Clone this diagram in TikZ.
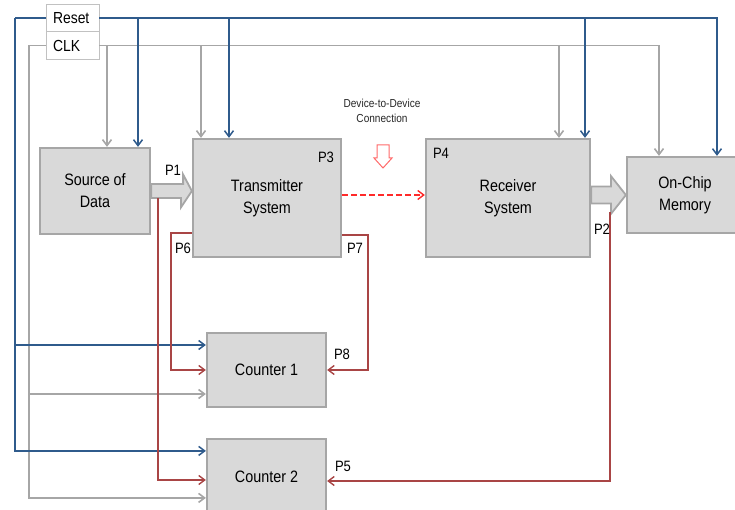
\documentclass[tikz,border=0pt]{standalone}
\usepackage{fontspec}
\setmainfont[FakeStretch=0.87]{Liberation Sans}
\usetikzlibrary{arrows.meta,calc}
\definecolor{boxfill}{HTML}{D9D9D9}
\definecolor{boxline}{HTML}{A6A6A6}
\definecolor{rstblue}{HTML}{2F5B8C}
\definecolor{clkgray}{HTML}{A6A6A6}
\definecolor{sigred}{HTML}{A94545}
\definecolor{ddred}{HTML}{FF2A2A}
\definecolor{outred}{HTML}{FF6A6A}
\begin{document}
\begin{tikzpicture}[x=1pt,y=-1pt,
  blk/.style={draw=boxline, fill=boxfill, line width=2.2pt, inner sep=0pt, align=center, font=\fontsize{16.5}{22}\selectfont},
  tag/.style={draw=boxline!70, fill=white, line width=0.8pt, inner xsep=7pt, inner ysep=0pt, text width=39pt, minimum height=27.5pt, align=left, font=\fontsize{16}{18}\selectfont},
  plabel/.style={inner sep=0pt, font=\fontsize{15}{17}\selectfont},
  tip/.style={-{Straight Barb[length=6pt,width=9pt]}},
  rst/.style={draw=rstblue, line width=1.5pt},
  clk/.style={draw=clkgray, line width=1.6pt},
  sig/.style={draw=sigred, line width=1.4pt},
  fat/.style={draw=boxline, fill=boxfill, line width=1.8pt, line join=miter}
]
\useasboundingbox (0,0) rectangle (735,510);

% blocks
\node[blk, minimum width=110pt, minimum height=86pt] (src) at (95,191) {Source of\\Data};
\node[blk, minimum width=148pt, minimum height=118pt] (tx) at (267,198) {Transmitter\\System};
\node[blk, minimum width=164pt, minimum height=118pt] (rx) at (508,198) {Receiver\\System};
\node[blk, minimum width=116pt, minimum height=76pt] (mem) at (685,195) {On-Chip\\Memory};
\node[blk, minimum width=119pt, minimum height=74pt] (c1) at (266.5,370) {Counter 1};
\node[blk, minimum width=119pt, minimum height=76pt] (c2) at (266.5,477) {Counter 2};

% signal tags
\node[tag] (reset) at (72.5,18) {Reset};
\node[tag] (clk) at (72.5,45.5) {CLK};

% drop points
\coordinate (cs) at ($(src.north)+(12,0)$);
\coordinate (ct) at ($(tx.north)+(-66,0)$);
\coordinate (cr) at ($(rx.north)+(51,0)$);
\coordinate (cm) at ($(mem.north)+(-26,0)$);
\coordinate (rs) at ($(src.north)+(43,0)$);
\coordinate (rt) at ($(tx.north)+(-38,0)$);
\coordinate (rr) at ($(rx.north)+(77,0)$);
\coordinate (rm) at ($(mem.north)+(32,0)$);
\coordinate (cL) at (29,45.5);
\coordinate (rL) at (15,18);
\coordinate (cL1) at (29,394);
\coordinate (rL1) at (15,345);

% CLK lines
\draw[clk] (clk.west) -- (cL);
\draw[clk,tip] (clk.east) -| (cm);
\draw[clk,tip] (cs |- clk.east) -- (cs);
\draw[clk,tip] (ct |- clk.east) -- (ct);
\draw[clk,tip] (cr |- clk.east) -- (cr);
\draw[clk,tip] (cL) |- ($(c2.north west)+(0,60)$);
\draw[clk,tip] (cL1) -- (cL1 -| c1.west);

% Reset lines
\draw[rst] (reset.west) -- (rL);
\draw[rst,tip] (reset.east) -| (rm);
\draw[rst,tip] (rs |- reset.east) -- (rs);
\draw[rst,tip] (rt |- reset.east) -- (rt);
\draw[rst,tip] (rr |- reset.east) -- (rr);
\draw[rst,tip] (rL) |- ($(c2.north west)+(0,13)$);
\draw[rst,tip] (rL1) -- (rL1 -| c1.west);

% fat data arrows
\draw[fat] ($(src.east)+(0,-7)$) -- ++(32,0) -- ++(0,-9.5) -- (tx.west |- src.east) -- ++(-11,16.5) -- ++(0,-9.5) -- ($(src.east)+(0,7)$) -- cycle;
\coordinate (a2) at (rx.east |- mem.west);
\draw[fat] ($(a2)+(0,-8.5)$) -- ($(mem.west)+(-15,-8.5)$) -- ++(0,-10.5) -- (mem.west) -- ++(-15,19) -- ++(0,-10.5) -- ($(a2)+(0,8.5)$) -- cycle;

% red control lines
\coordinate (p1s) at ($(src.east)+(7,7)$);
\coordinate (p2s) at ($(mem.west)+(-16,17)$);
\draw[sig,tip] (p1s) |- ($(c2.west)+(0,3)$);
\draw[sig,tip] ($(tx.south west)+(0,-25)$) -- ++(-21,0) |- (c1.west);
\draw[sig,tip] ($(tx.south east)+(0,-23)$) -- ++(26,0) |- (c1.east);
\draw[sig,tip] (p2s) |- ($(c2.east)+(0,4)$);

% device-to-device
\coordinate (ddy) at (0,195);
\draw[ddred, line width=1.4pt, dash pattern=on 5.5pt off 3.5pt, -{Straight Barb[length=6pt,width=9pt]}] (tx.east |- ddy) -- (rx.west |- ddy);
\node[font=\fontsize{11.6}{15.5}\selectfont, text=black!85, align=center, inner sep=0pt] (dd) at (382,111) {Device-to-Device\\Connection};
\draw[draw=outred, fill=white, line width=1pt, line join=miter] (377,145) -- (389,145) -- (389,158) -- (392,158) -- (383,168) -- (374,158) -- (377,158) -- cycle;

% port labels
\node[plabel] (lp1) at (173,170) {P1};
\node[plabel] (lp3) at (326,157) {P3};
\node[plabel] (lp4) at (441,153) {P4};
\node[plabel] (lp6) at (183,248) {P6};
\node[plabel] (lp7) at (355,248) {P7};
\node[plabel] (lp2) at (602,229) {P2};
\node[plabel] (lp8) at (342,354) {P8};
\node[plabel] (lp5) at (343,466) {P5};
\end{tikzpicture}
\end{document}
